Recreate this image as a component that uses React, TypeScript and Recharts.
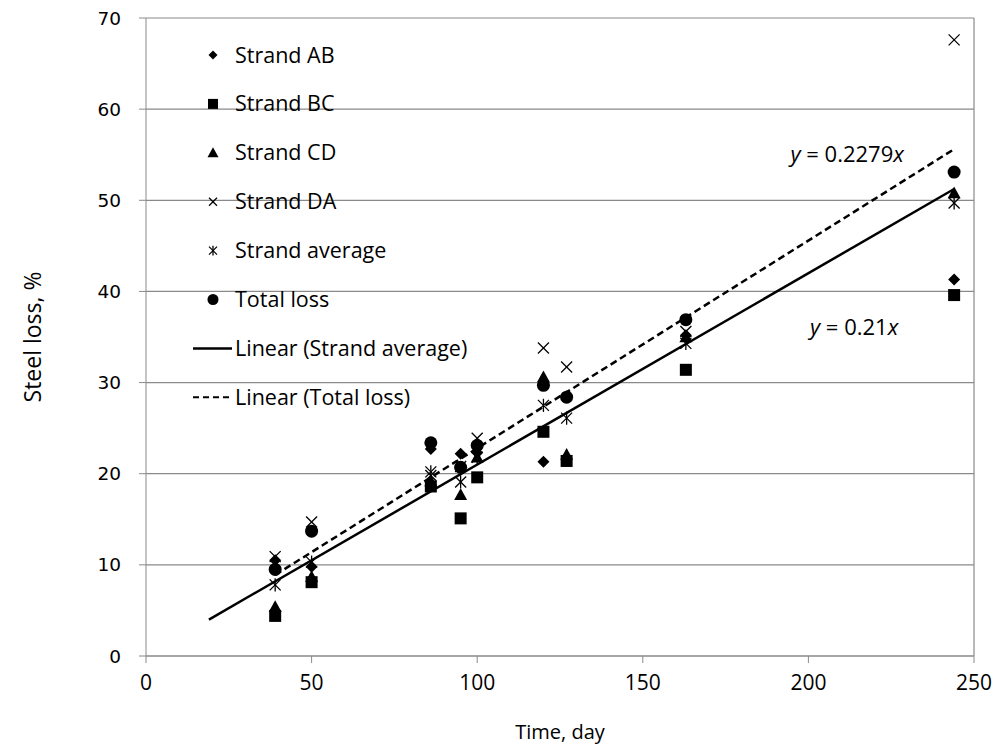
import { ScatterChart, Scatter, XAxis, YAxis, CartesianGrid, ReferenceLine, ReferenceDot, Legend, Label } from "recharts";

// measurement days
const days = [39, 50, 86, 95, 100, 120, 127, 163, 244];

// steel loss, %
const strandAB = [10.5, 9.8, 22.7, 22.2, 22.3, 21.3, 28.5, 35.2, 41.3];
const strandBC = [4.4, 8.1, 18.6, 15.1, 19.6, 24.6, 21.4, 31.4, 39.6];
const strandCD = [5.4, 8.7, 19.2, 17.7, 21.8, 30.6, 22.1, 35.0, 50.8];
const strandDA = [10.9, 14.7, 19.8, 20.8, 23.9, 33.8, 31.7, 35.6, 67.6];
const strandAvg = [7.8, 10.3, 20.2, 19.1, 21.8, 27.5, 26.1, 34.3, 49.7];
const totalLoss = [9.5, 13.7, 23.4, 20.7, 23.1, 29.7, 28.4, 36.9, 53.1];

// trend lines (through origin): y = 0.21x and y = 0.2279x
const trendAvgX = [19, 244];
const trendAvgY = [3.99, 51.24];
const trendTotalX = [39, 244];
const trendTotalY = [8.89, 55.61];

const xTicks = [0, 50, 100, 150, 200, 250];
const yTicks = [0, 10, 20, 30, 40, 50, 60, 70];

const legendNames = [
  "Strand AB",
  "Strand BC",
  "Strand CD",
  "Strand DA",
  "Strand average",
  "Total loss",
  "Linear (Strand average)",
  "Linear (Total loss)",
];

const GRID = "#8a8a8a";
const TEXT_FONT = "'Open Sans', Lato, sans-serif";

const toPoints = (xs: number[], ys: number[]) => xs.map((x, i) => ({ x, y: ys[i] }));

type Pt = { cx?: number; cy?: number };

const diamond = (cx: number, cy: number, s: number) => (
  <polygon points={`${cx},${cy - s} ${cx + s},${cy} ${cx},${cy + s} ${cx - s},${cy}`} fill="#000" />
);
const square = (cx: number, cy: number, s: number) => (
  <rect x={cx - s} y={cy - s} width={s * 2} height={s * 2} fill="#000" />
);
const triangle = (cx: number, cy: number, s: number) => (
  <polygon points={`${cx},${cy - s} ${cx + s},${cy + s * 0.8} ${cx - s},${cy + s * 0.8}`} fill="#000" />
);
const cross = (cx: number, cy: number, s: number) => (
  <g stroke="#000" strokeWidth={1.3}>
    <line x1={cx - s} y1={cy - s} x2={cx + s} y2={cy + s} />
    <line x1={cx - s} y1={cy + s} x2={cx + s} y2={cy - s} />
  </g>
);
const star = (cx: number, cy: number, s: number) => (
  <g stroke="#000" strokeWidth={1.3}>
    <line x1={cx - s} y1={cy - s} x2={cx + s} y2={cy + s} />
    <line x1={cx - s} y1={cy + s} x2={cx + s} y2={cy - s} />
    <line x1={cx} y1={cy - s * 1.2} x2={cx} y2={cy + s * 1.2} />
  </g>
);
const dot = (cx: number, cy: number, s: number) => <circle cx={cx} cy={cy} r={s} fill="#000" />;

const markers = [diamond, square, triangle, cross, star, dot];
const markerSizes = [6, 6, 6.5, 5.5, 5.5, 6.5];
const legendSizes = [4.5, 5, 5.5, 4, 4, 5.5];

const shapeFor = (i: number) => (p: Pt) => markers[i](p.cx ?? 0, p.cy ?? 0, markerSizes[i]);

const ChartLegend = () => (
  <svg width={520} height={430}>
    {legendNames.map((name, i) => {
      const y = 55 + i * 48.9;
      return (
        <g key={name}>
          {i < 6 && markers[i](213, y, legendSizes[i])}
          {i === 6 && <line x1={193} x2={232} y1={y} y2={y} stroke="#000" strokeWidth={2.5} />}
          {i === 7 && <line x1={193} x2={232} y1={y} y2={y} stroke="#000" strokeWidth={2} strokeDasharray="6 4" />}
          <text x={235} y={y} dy="0.35em" fontSize={21.5} fontFamily={TEXT_FONT} fill="#000">
            {name}
          </text>
        </g>
      );
    })}
  </svg>
);

const equation = (coef: string) => (props: any) => {
  const vb = props.viewBox || {};
  const cx = (vb.x ?? 0) + (vb.width ?? 0) / 2;
  const cy = (vb.y ?? 0) + (vb.height ?? 0) / 2;
  return (
    <text x={cx} y={cy} dy="0.35em" textAnchor="middle" fontSize={22} fontFamily={TEXT_FONT} fill="#000">
      <tspan fontStyle="italic">y</tspan>
      <tspan> = {coef}</tspan>
      <tspan fontStyle="italic">x</tspan>
    </text>
  );
};

const yTitle = (props: any) => {
  const vb = props.viewBox || {};
  const cy = (vb.y ?? 0) + (vb.height ?? 0) / 2;
  return (
    <text
      x={33}
      y={cy}
      dy="0.35em"
      textAnchor="middle"
      transform={`rotate(-90, 33, ${cy})`}
      fontSize={23}
      fontFamily={TEXT_FONT}
      fill="#000"
    >
      Steel loss, %
    </text>
  );
};

const seriesData = [strandAB, strandBC, strandCD, strandDA, strandAvg, totalLoss];

export default function App() {
  return (
    <div style={{ position: "absolute", left: 0, top: 0, background: "#fff" }}>
      <ScatterChart width={1001} height={745} margin={{ top: 18, right: 27, bottom: 0, left: 0 }}>
        <CartesianGrid vertical={false} stroke={GRID} strokeWidth={1.2} />
        <XAxis
          type="number"
          dataKey="x"
          domain={[0, 250]}
          ticks={xTicks}
          height={89}
          stroke={GRID}
          tickSize={7}
          tickMargin={12}
          tick={{ fill: "#000", fontSize: 21, fontFamily: TEXT_FONT }}
        >
          <Label value="Time, day" position="insideBottom" offset={6} fill="#000" fontSize={20} fontFamily={TEXT_FONT} />
        </XAxis>
        <YAxis
          type="number"
          dataKey="y"
          domain={[0, 70]}
          ticks={yTicks}
          width={146}
          stroke={GRID}
          tickSize={7}
          tickMargin={18}
          tick={{ fill: "#000", fontSize: 18.5, fontFamily: "'DejaVu Sans', sans-serif" }}
          label={{ content: yTitle }}
        />
        <ReferenceLine x={250} stroke={GRID} strokeWidth={1.2} />
        <Legend
          layout="vertical"
          align="center"
          verticalAlign="middle"
          content={() => <ChartLegend />}
          wrapperStyle={{ left: 0, top: 0, width: 520, height: 430, pointerEvents: "none" }}
        />
        <Scatter
          data={toPoints(trendAvgX, trendAvgY)}
          line={{ stroke: "#000", strokeWidth: 2.5 }}
          shape={() => <g />}
          isAnimationActive={false}
          legendType="none"
        />
        <Scatter
          data={toPoints(trendTotalX, trendTotalY)}
          line={{ stroke: "#000", strokeWidth: 2.5, strokeDasharray: "7 4" }}
          shape={() => <g />}
          isAnimationActive={false}
          legendType="none"
        />
        {seriesData.map((vals, i) => (
          <Scatter
            key={legendNames[i]}
            name={legendNames[i]}
            data={toPoints(days, vals)}
            shape={shapeFor(i)}
            isAnimationActive={false}
          />
        ))}
        <ReferenceDot x={211.7} y={55} r={0} stroke="none" label={{ content: equation("0.2279") }} />
        <ReferenceDot x={213.8} y={36.1} r={0} stroke="none" label={{ content: equation("0.21") }} />
      </ScatterChart>
    </div>
  );
}
